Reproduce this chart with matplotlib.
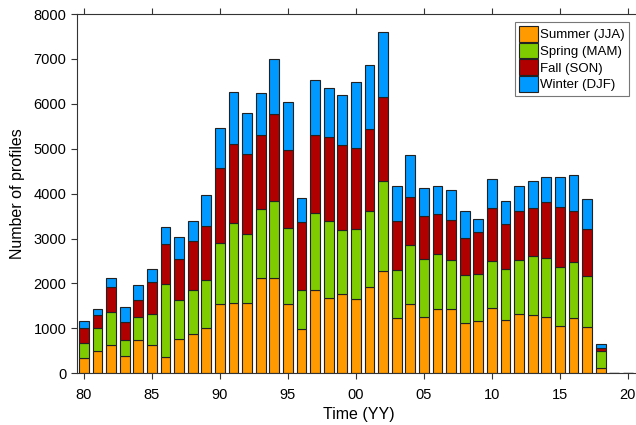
import matplotlib
matplotlib.use("Agg")
import matplotlib.pyplot as plt
import numpy as np

plt.rcParams['font.family'] = ['Liberation Sans', 'DejaVu Sans']

years = list(range(1980, 2021))
summer = [348, 496, 622, 385, 741, 622, 363, 756, 867, 1007,
          1533, 1556, 1556, 2133, 2133, 1533, 993, 1844, 1667, 1770,
          1644, 1911, 2274, 1222, 1548, 1252, 1437, 1422, 1119, 1156,
          1444, 1178, 1311, 1289, 1244, 1050, 1222, 1022, 111, 8, 8]
spring = [333, 519, 748, 348, 511, 704, 1630, 881, 992, 1074,
          1378, 1800, 1548, 1526, 1711, 1704, 866, 1734, 1726, 1415,
          1571, 1704, 2000, 1074, 1311, 1304, 1230, 1104, 1074, 1051,
          1060, 1141, 1215, 1318, 1326, 1320, 1252, 1148, 378, 4, 4]
fall = [319, 274, 541, 408, 378, 704, 881, 919, 1082, 1208,
        1652, 1748, 1785, 1652, 1919, 1726, 1504, 1726, 1859, 1889,
        1807, 1815, 1882, 1089, 1060, 940, 874, 896, 829, 934,
        1170, 1007, 1096, 1082, 1252, 1341, 1148, 1052, 81, 2, 2]
winter = [156, 141, 200, 326, 326, 296, 393, 481, 452, 689,
          896, 1155, 896, 919, 1230, 1067, 548, 1229, 1104, 1119,
          1474, 1429, 1437, 793, 933, 630, 629, 652, 593, 296,
          652, 511, 548, 585, 556, 667, 785, 659, 82, 1, 1]
tick_years = [1980, 1985, 1990, 1995, 2000, 2005, 2010, 2015, 2020]
tick_labels = ['80', '85', '90', '95', '00', '05', '10', '15', '20']

colors = ['#FF9A00', '#7FCC00', '#B00000', '#0099FF']
names = ['Summer (JJA)', 'Spring (MAM)', 'Fall (SON)', 'Winter (DJF)']
series = [summer, spring, fall, winter]

W, H = 636, 425
fig = plt.figure(figsize=(W / 100, H / 100), dpi=100)
ax = fig.add_axes([77 / W, (H - 373.3) / H, 564.5 / W, 359.3 / H])

bottom = np.zeros(len(years))
handles = []
for vals, c, n in zip(series, colors, names):
    v = np.array(vals, dtype=float)
    b = ax.bar(years, v, width=0.72, bottom=bottom, color=c,
               edgecolor='#222222', linewidth=0.8, label=n)
    handles.append(b)
    bottom += v

ax.set_xlim(1979.49, 2021.0)
ax.set_ylim(0, 8000)
ax.set_yticks(range(0, 8001, 1000))
ax.set_xticks(tick_years)
ax.set_xticklabels(tick_labels)
ax.tick_params(axis='both', direction='out', length=4.5, width=0.8,
               labelsize=10.5, color='#333333', pad=3)
ax.tick_params(axis='x', top=True, pad=6)
for s in ['left', 'top', 'bottom']:
    ax.spines[s].set_linewidth(0.8)
    ax.spines[s].set_color('#333333')
ax.spines['right'].set_visible(False)

ax.set_xlabel('Time (YY)', fontsize=11.5, labelpad=4)
ax.set_ylabel('Number of profiles', fontsize=11.5, labelpad=6)

leg = ax.legend(handles=handles, loc='upper right',
                bbox_to_anchor=(629 / W, (H - 22) / H),
                bbox_transform=fig.transFigure,
                fontsize=9.5, frameon=True, fancybox=False,
                handlelength=1.4, handleheight=1.45, handletextpad=0.2,
                labelspacing=0.08, borderpad=0.3, borderaxespad=0)
leg.get_frame().set_edgecolor('#555555')
leg.get_frame().set_linewidth(0.8)

fig.savefig('out.png', dpi=100)
